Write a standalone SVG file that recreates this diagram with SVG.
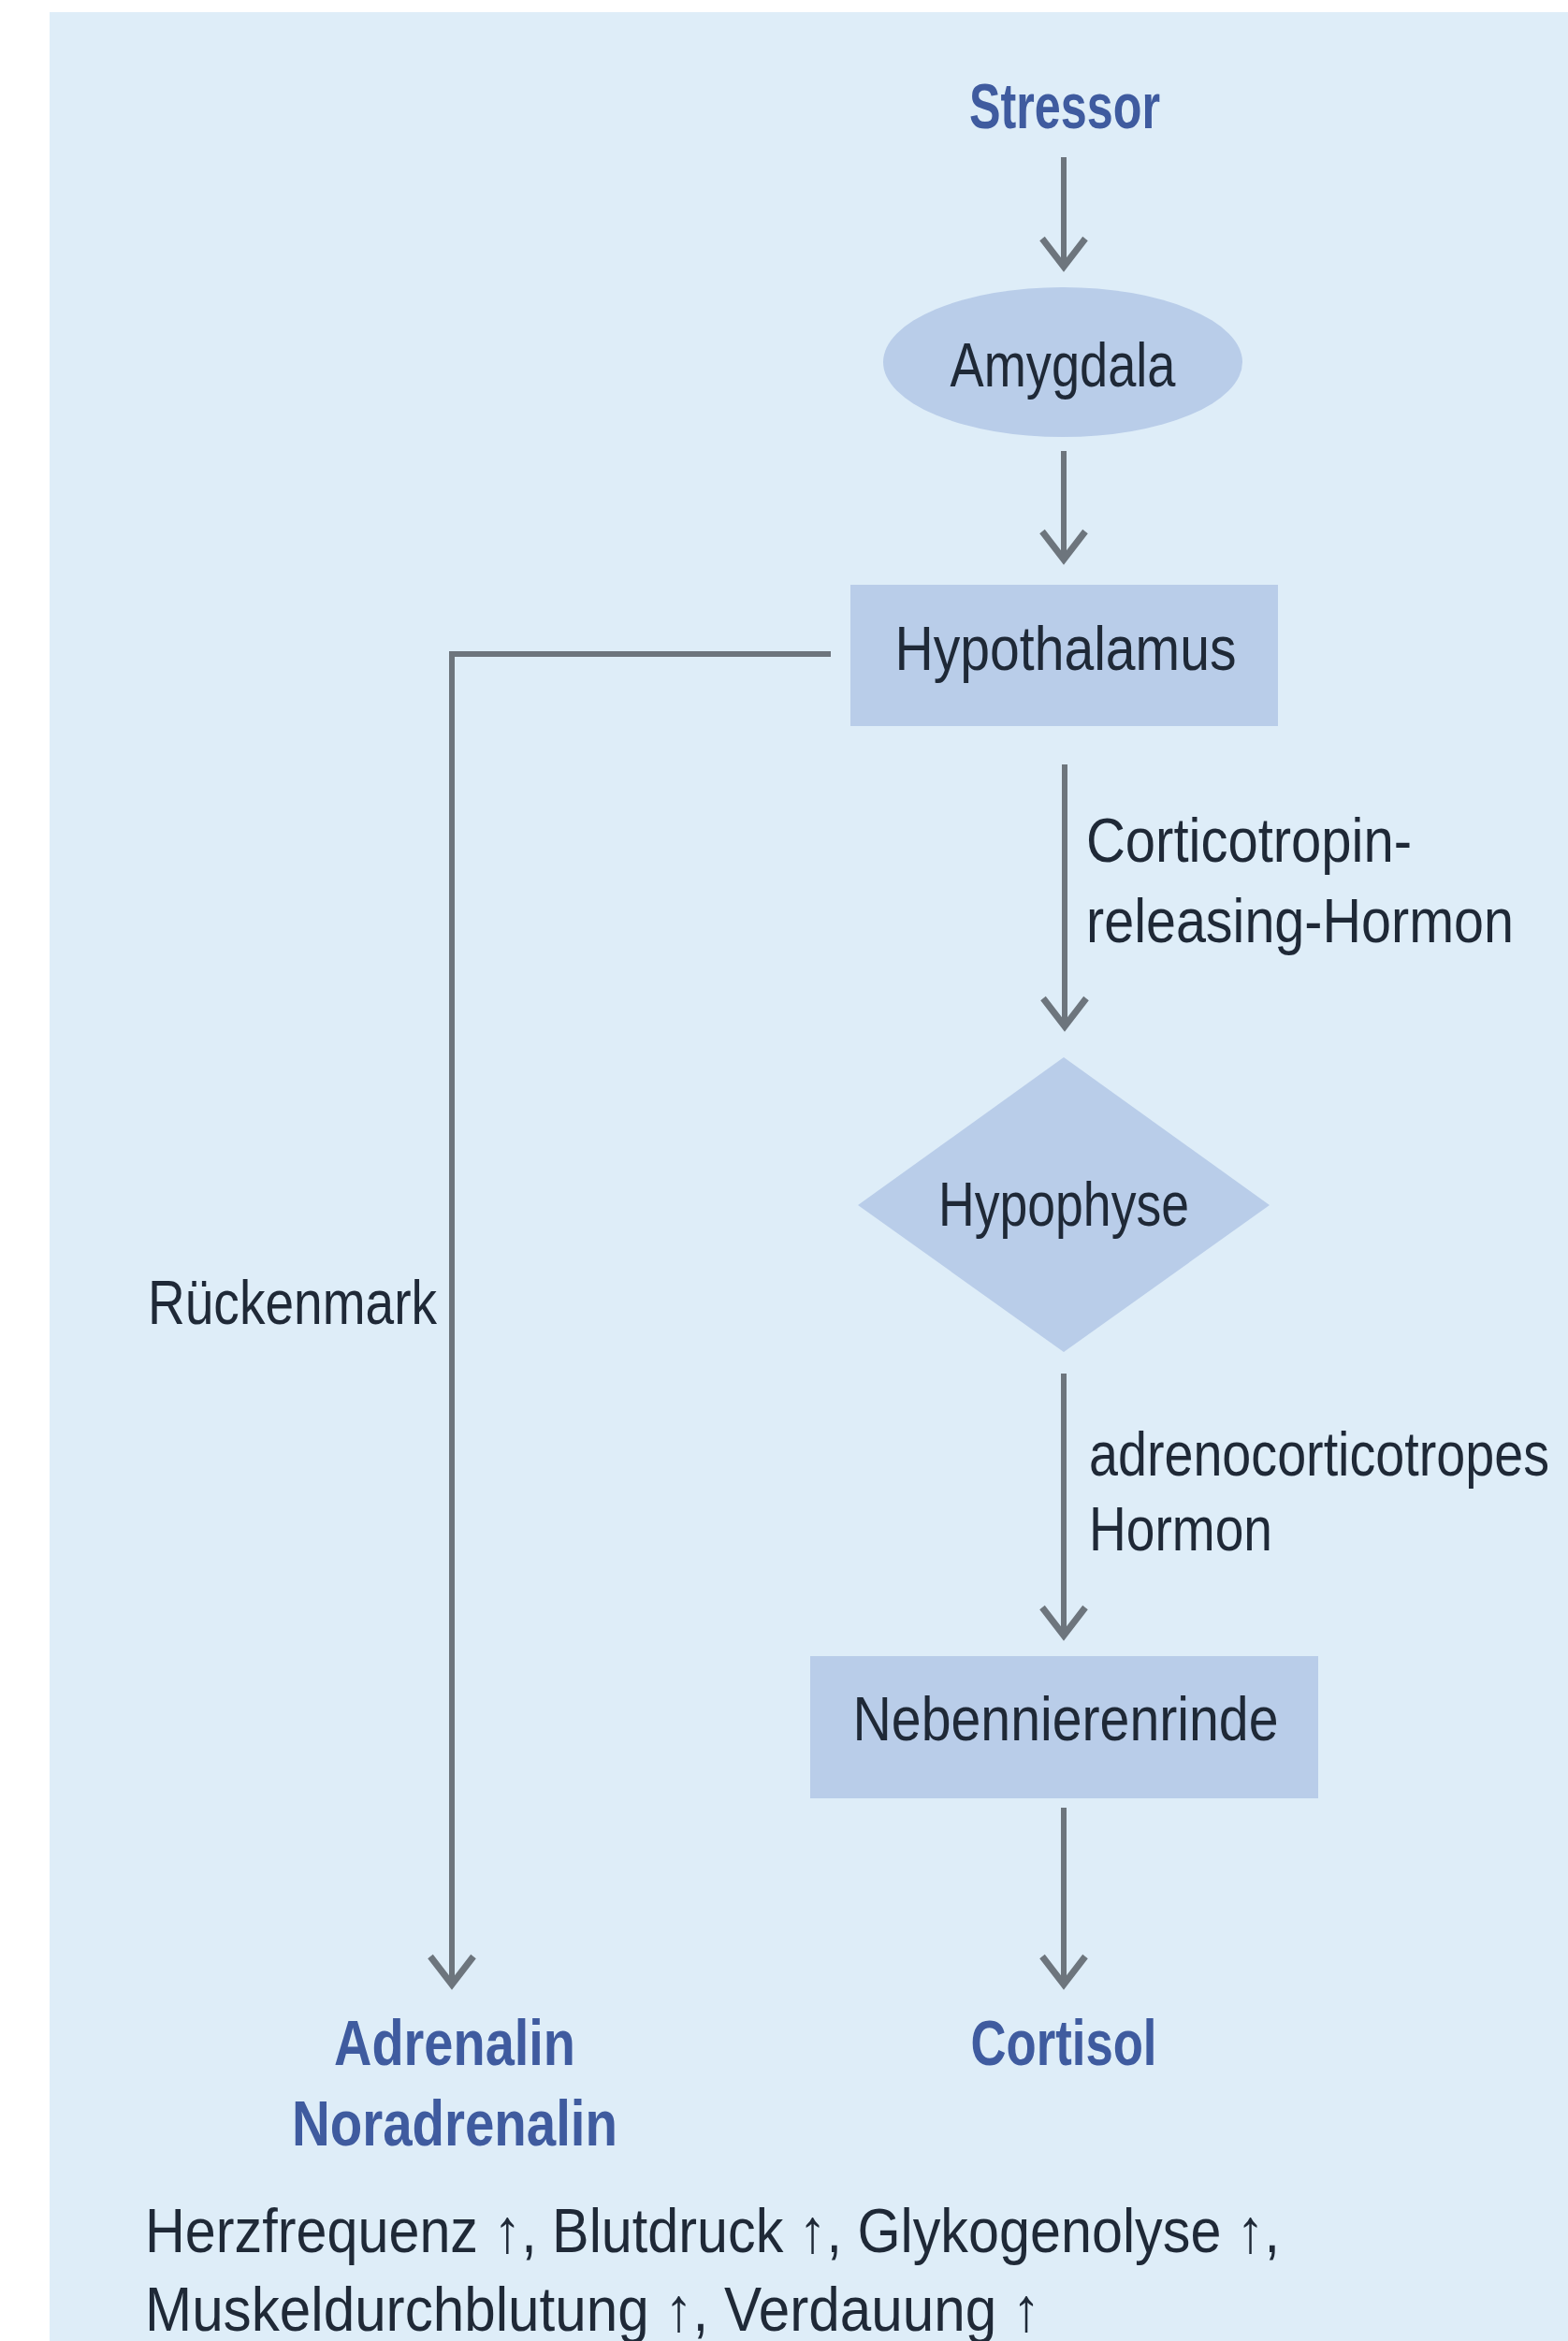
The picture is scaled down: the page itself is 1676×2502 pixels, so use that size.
<svg xmlns="http://www.w3.org/2000/svg" width="1676" height="2502" viewBox="0 0 1676 2502">
<defs>
<style>
.bg{fill:#deedf8}
.node{fill:#b9cde9}
.t{font-family:"Liberation Sans","DejaVu Sans",sans-serif;font-size:66px;fill:#1f2937}
.b{font-family:"Liberation Sans","DejaVu Sans",sans-serif;font-size:68px;font-weight:bold;fill:#3f5b9f}
.c{text-anchor:middle}
.ln{fill:none;stroke:#6d757d;stroke-width:6}
</style>
<marker id="ah" markerUnits="userSpaceOnUse" viewBox="-40 -40 80 80" markerWidth="80" markerHeight="80" refX="0" refY="0" orient="auto" overflow="visible">
<path d="M -30 -23 L 0 0 L -30 23" fill="none" stroke="#6d757d" stroke-width="7" stroke-linejoin="miter"/>
</marker>
</defs>
<rect x="0" y="0" width="1676" height="2502" fill="#ffffff"/>
<rect class="bg" x="53" y="13" width="1623" height="2489"/>

<g id="connectors">
<path class="ln" d="M 1137 168 V 285" marker-end="url(#ah)"/>
<path class="ln" d="M 1137 482 V 598" marker-end="url(#ah)"/>
<path class="ln" d="M 1138 817 V 1097" marker-end="url(#ah)"/>
<path class="ln" d="M 1137 1468 V 1748" marker-end="url(#ah)"/>
<path class="ln" d="M 1137 1932 V 2121" marker-end="url(#ah)"/>
<path class="ln" d="M 888 699 H 483 V 2121" marker-end="url(#ah)"/>
</g>

<g id="stressor">
<text class="b c" x="1138" y="137" textLength="204" lengthAdjust="spacingAndGlyphs">Stressor</text>
</g>
<g id="amygdala">
<ellipse class="node" cx="1136" cy="387" rx="192" ry="80"/>
<text class="t c" x="1136" y="413" textLength="241" lengthAdjust="spacingAndGlyphs">Amygdala</text>
</g>
<g id="hypothalamus">
<rect class="node" x="909" y="625" width="457" height="151"/>
<text class="t c" x="1139" y="716" textLength="365" lengthAdjust="spacingAndGlyphs">Hypothalamus</text>
</g>
<g id="crh-label">
<text class="t" x="1161" y="921" textLength="348" lengthAdjust="spacingAndGlyphs">Corticotropin-</text>
<text class="t" x="1161" y="1007" textLength="457" lengthAdjust="spacingAndGlyphs">releasing-Hormon</text>
</g>
<g id="hypophyse">
<polygon class="node" points="1137,1130 1357,1288 1137,1445 917,1288"/>
<text class="t c" x="1137" y="1310" textLength="268" lengthAdjust="spacingAndGlyphs">Hypophyse</text>
</g>
<g id="acth-label">
<text class="t" x="1164" y="1577" textLength="492" lengthAdjust="spacingAndGlyphs">adrenocorticotropes</text>
<text class="t" x="1164" y="1657" textLength="196" lengthAdjust="spacingAndGlyphs">Hormon</text>
</g>
<g id="nebennierenrinde">
<rect class="node" x="866" y="1770" width="543" height="152"/>
<text class="t c" x="1139" y="1860" textLength="455" lengthAdjust="spacingAndGlyphs">Nebennierenrinde</text>
</g>
<g id="rueckenmark-label">
<text class="t" x="158" y="1415" textLength="309" lengthAdjust="spacingAndGlyphs">Rückenmark</text>
</g>
<g id="adrenalin">
<text class="b c" x="486" y="2207" textLength="258" lengthAdjust="spacingAndGlyphs">Adrenalin</text>
<text class="b c" x="486" y="2293" textLength="348" lengthAdjust="spacingAndGlyphs">Noradrenalin</text>
</g>
<g id="cortisol">
<text class="b c" x="1137" y="2207" textLength="199" lengthAdjust="spacingAndGlyphs">Cortisol</text>
</g>
<g id="effects">
<text class="t" x="155" y="2407" textLength="1213" lengthAdjust="spacingAndGlyphs">Herzfrequenz ↑, Blutdruck ↑, Glykogenolyse ↑,</text>
<text class="t" x="155" y="2491" textLength="957" lengthAdjust="spacingAndGlyphs">Muskeldurchblutung ↑, Verdauung ↑</text>
</g>
</svg>
